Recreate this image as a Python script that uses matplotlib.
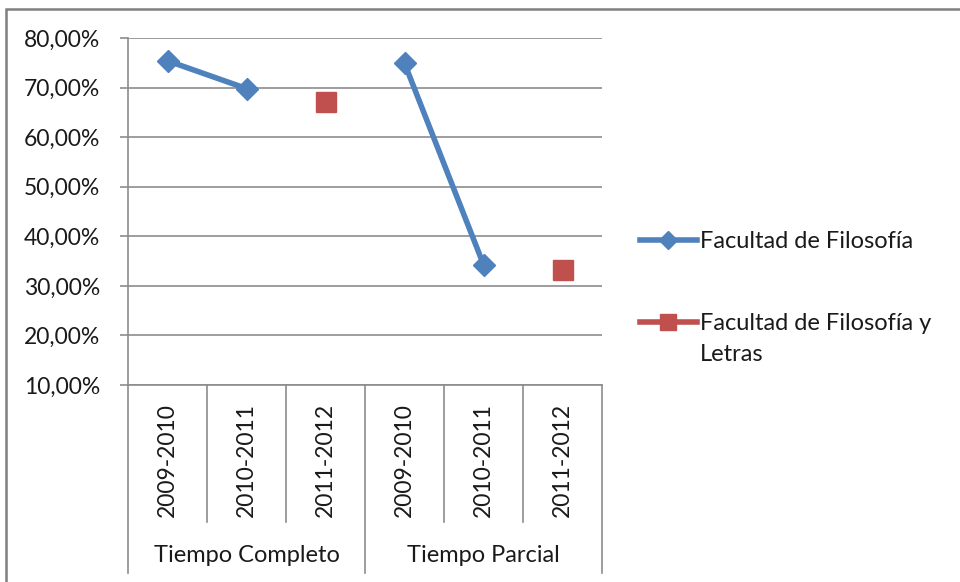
import numpy as np
import matplotlib
matplotlib.use("Agg")
import matplotlib.pyplot as plt
from matplotlib.patches import Rectangle

plt.rcParams['font.family'] = ['Lato', 'DejaVu Sans']

# data
groups = ['Tiempo Completo', 'Tiempo Parcial']
years = ['2009-2010', '2010-2011', '2011-2012']
filosofia = [75.4, 69.8, np.nan, 74.9, 34.3, np.nan]
filosofia_letras = [np.nan, np.nan, 67.1, np.nan, np.nan, 33.2]
yticks = [10, 20, 30, 40, 50, 60, 70, 80]

blue = '#4F81BD'
red = '#C0504D'
grid_c = '#8C8C8C'
txt_c = '#1a1a1a'
fs_num = 16.5
fs_txt = 17

W, H = 960, 582
fig = plt.figure(figsize=(W / 100, H / 100), dpi=100)
ax = fig.add_axes([128 / W, 1 - 385 / H, (602 - 128) / W, (385 - 38) / H])

x = np.arange(len(groups) * len(years))
ax.plot(x, filosofia, color=blue, lw=4, marker='D', ms=11, mec=blue,
        label='Facultad de Filosofía', zorder=3, clip_on=False)
ax.plot(x, filosofia_letras, color=red, lw=4, marker='s', ms=14, mec=red,
        label='Facultad de Filosofía y', zorder=3, clip_on=False)

ax.set_xlim(-0.5, len(x) - 0.5)
ax.set_ylim(10, 80)
ax.set_yticks(yticks)
ax.set_yticklabels([f'{v},00%' for v in yticks], fontsize=fs_num, color=txt_c)
ax.yaxis.grid(True, color=grid_c, lw=1.2)
ax.set_axisbelow(True)
ax.tick_params(axis='y', length=6, width=1.2, color=grid_c, pad=14)
ax.set_xticks([])
for s in ['top', 'right']:
    ax.spines[s].set_visible(False)
for s in ['left', 'bottom']:
    ax.spines[s].set_color(grid_c)
    ax.spines[s].set_linewidth(1.2)

# multi-level category axis
ph = 385 - 38
tr = ax.get_xaxis_transform()
inner_y = -(522 - 385) / ph
outer_y = -(573 - 385) / ph
for b in np.arange(len(x) + 1) - 0.5:
    yb = outer_y if (b + 0.5) % len(years) == 0 else inner_y
    ax.plot([b, b], [0, yb], transform=tr, color=grid_c, lw=1.2, clip_on=False)
for i, xi in enumerate(x):
    ax.text(xi, -(460 - 385) / ph, years[i % len(years)], transform=tr,
            rotation=90, ha='center', va='center', fontsize=fs_num, color=txt_c)
for g, name in enumerate(groups):
    ax.text(g * len(years) + 1, -(555 - 385) / ph, name, transform=tr,
            ha='center', va='center', fontsize=fs_txt, color=txt_c)

leg = ax.legend(loc='upper left', bbox_to_anchor=(640 / W, 1 - 231 / H),
                bbox_transform=fig.transFigure, frameon=False, fontsize=fs_txt,
                handlelength=2.4, handletextpad=0.12, labelspacing=2.6,
                markerscale=0.8, borderpad=0, borderaxespad=0)
for t in leg.get_texts():
    t.set_color(txt_c)

# second line of the wrapped legend label
fig.canvas.draw()
bb = leg.get_texts()[1].get_window_extent()
fig.text(bb.x0 / W, (bb.y0 + bb.y1) / 2 / H - 31 / H, 'Letras', ha='left', va='center',
         fontsize=fs_txt, color=txt_c)

# outer chart frame
fig.add_artist(Rectangle((6 / W, -0.1), 1.2, 1 - 9 / H + 0.1, transform=fig.transFigure,
                         fill=False, ec='#7f7f7f', lw=1.8))

fig.savefig('out.png', dpi=100)
